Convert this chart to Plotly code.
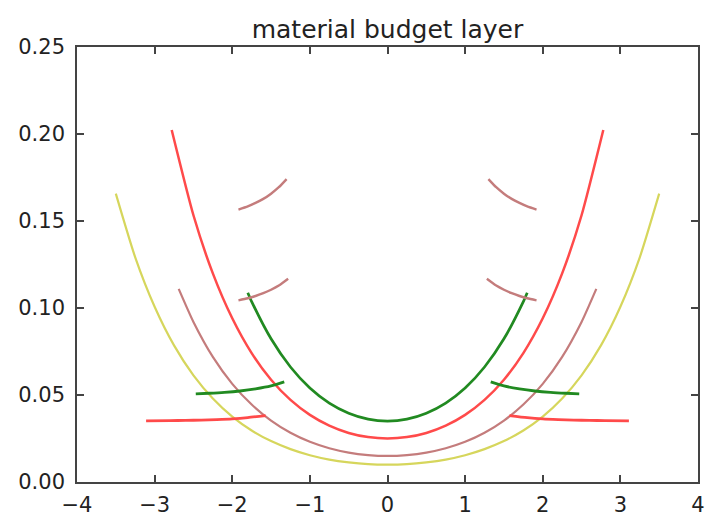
import plotly.graph_objects as go

# ---- data (eta vs material budget) ----
eta_yellow = [-3.5, -3.25, -3.0, -2.75, -2.5, -2.25, -2.0, -1.75, -1.5, -1.25, -1.0, -0.75, -0.5, -0.25, 0.0,
              0.25, 0.5, 0.75, 1.0, 1.25, 1.5, 1.75, 2.0, 2.25, 2.5, 2.75, 3.0, 3.25, 3.5]
mb_yellow = [0.1657, 0.1291, 0.1007, 0.0785, 0.0613, 0.0480, 0.0376, 0.0296, 0.0235, 0.0189, 0.0154, 0.0129, 0.0113, 0.0103, 0.0100,
             0.0103, 0.0113, 0.0129, 0.0154, 0.0189, 0.0235, 0.0296, 0.0376, 0.0480, 0.0613, 0.0785, 0.1007, 0.1291, 0.1657]

eta_red = [-2.78, -2.5, -2.25, -2.0, -1.75, -1.5, -1.25, -1.0, -0.75, -0.5, -0.25, 0.0,
           0.25, 0.5, 0.75, 1.0, 1.25, 1.5, 1.75, 2.0, 2.25, 2.5, 2.78]
mb_red = [0.2023, 0.1533, 0.1199, 0.0941, 0.0741, 0.0588, 0.0472, 0.0386, 0.0324, 0.0282, 0.0258, 0.0250,
          0.0258, 0.0282, 0.0324, 0.0386, 0.0472, 0.0588, 0.0741, 0.0941, 0.1199, 0.1533, 0.2023]

eta_brown = [-2.69, -2.5, -2.25, -2.0, -1.75, -1.5, -1.25, -1.0, -0.75, -0.5, -0.25, 0.0,
             0.25, 0.5, 0.75, 1.0, 1.25, 1.5, 1.75, 2.0, 2.25, 2.5, 2.69]
mb_brown = [0.1110, 0.0920, 0.0719, 0.0564, 0.0445, 0.0353, 0.0283, 0.0231, 0.0194, 0.0169, 0.0155, 0.0150,
            0.0155, 0.0169, 0.0194, 0.0231, 0.0283, 0.0353, 0.0445, 0.0564, 0.0719, 0.0920, 0.1110]

eta_green = [-1.8, -1.75, -1.5, -1.25, -1.0, -0.75, -0.5, -0.25, 0.0, 0.25, 0.5, 0.75, 1.0, 1.25, 1.5, 1.75, 1.8]
mb_green = [0.1088, 0.1037, 0.0823, 0.0661, 0.0540, 0.0453, 0.0395, 0.0361, 0.0350,
            0.0361, 0.0395, 0.0453, 0.0540, 0.0661, 0.0823, 0.1037, 0.1088]

# endcap disks (right side values; left side mirrored in eta)
eta_disk_brown_hi = [1.30, 1.4, 1.5, 1.6, 1.7, 1.8, 1.92]
mb_disk_brown_hi = [0.1741, 0.1694, 0.1657, 0.1627, 0.1604, 0.1584, 0.1566]
eta_disk_brown_lo = [1.28, 1.4, 1.5, 1.6, 1.7, 1.8, 1.92]
mb_disk_brown_lo = [0.1168, 0.1129, 0.1105, 0.1085, 0.1069, 0.1056, 0.1044]
eta_disk_green = [1.33, 1.5, 1.7, 1.9, 2.1, 2.3, 2.47]
mb_disk_green = [0.0575, 0.0552, 0.0535, 0.0523, 0.0515, 0.0510, 0.0507]
eta_disk_red = [1.57, 1.8, 2.0, 2.2, 2.4, 2.6, 2.8, 3.11]
mb_disk_red = [0.0382, 0.0370, 0.0363, 0.0359, 0.0356, 0.0354, 0.0353, 0.0351]

x_ticks = [-4, -3, -2, -1, 0, 1, 2, 3, 4]
x_tick_labels = ["\u22124", "\u22123", "\u22122", "\u22121", "0", "1", "2", "3", "4"]
y_ticks = [0.0, 0.05, 0.10, 0.15, 0.20, 0.25]
y_tick_labels = ["0.00", "0.05", "0.10", "0.15", "0.20", "0.25"]

YELLOW = "#d6d65c"
RED = "#ff4a4a"
BROWN = "#c47c7c"
GREEN = "#218a21"

fig = go.Figure()

def add(x, y, color, width=2.0):
    fig.add_trace(go.Scatter(x=x, y=y, mode="lines", line=dict(color=color, width=width, shape="spline", smoothing=0.6),
                             showlegend=False, hoverinfo="skip"))

add(eta_yellow, mb_yellow, YELLOW, 2.2)
add(eta_brown, mb_brown, BROWN, 2.2)
add(eta_red, mb_red, RED, 2.5)
add(eta_green, mb_green, GREEN, 2.7)

for ex, my, col, w in [(eta_disk_brown_hi, mb_disk_brown_hi, BROWN, 2.4),
                       (eta_disk_brown_lo, mb_disk_brown_lo, BROWN, 2.4),
                       (eta_disk_green, mb_disk_green, GREEN, 2.8),
                       (eta_disk_red, mb_disk_red, RED, 2.8)]:
    add(ex, my, col, w)
    add([-e for e in ex], my, col, w)

axis_common = dict(showline=True, linecolor="#444444", linewidth=1.6, mirror="allticks",
                   ticks="inside", ticklen=7, tickwidth=1.5, tickcolor="#444444",
                   showgrid=False, zeroline=False, automargin=False,
                   tickfont=dict(family="DejaVu Sans", size=21, color="#222222"))

fig.update_xaxes(range=[-4, 4], tickvals=x_ticks, ticktext=x_tick_labels, ticklabelstandoff=3, **axis_common)
fig.update_yaxes(range=[0, 0.25], tickvals=y_ticks, ticktext=y_tick_labels, ticklabelstandoff=6, **axis_common)

fig.update_layout(
    width=705, height=517,
    margin=dict(l=77, r=7, t=47, b=35),
    paper_bgcolor="white", plot_bgcolor="white",
    title=dict(text="material budget layer", x=(77 + 698) / 2 / 705, xanchor="center",
               y=1 - 29 / 517, yanchor="middle",
               font=dict(family="DejaVu Sans", size=25, color="#222222")),
)

fig.write_html("out.html", config={"displayModeBar": False},
               post_script="document.body.style.margin='0';document.body.style.padding='0';")
